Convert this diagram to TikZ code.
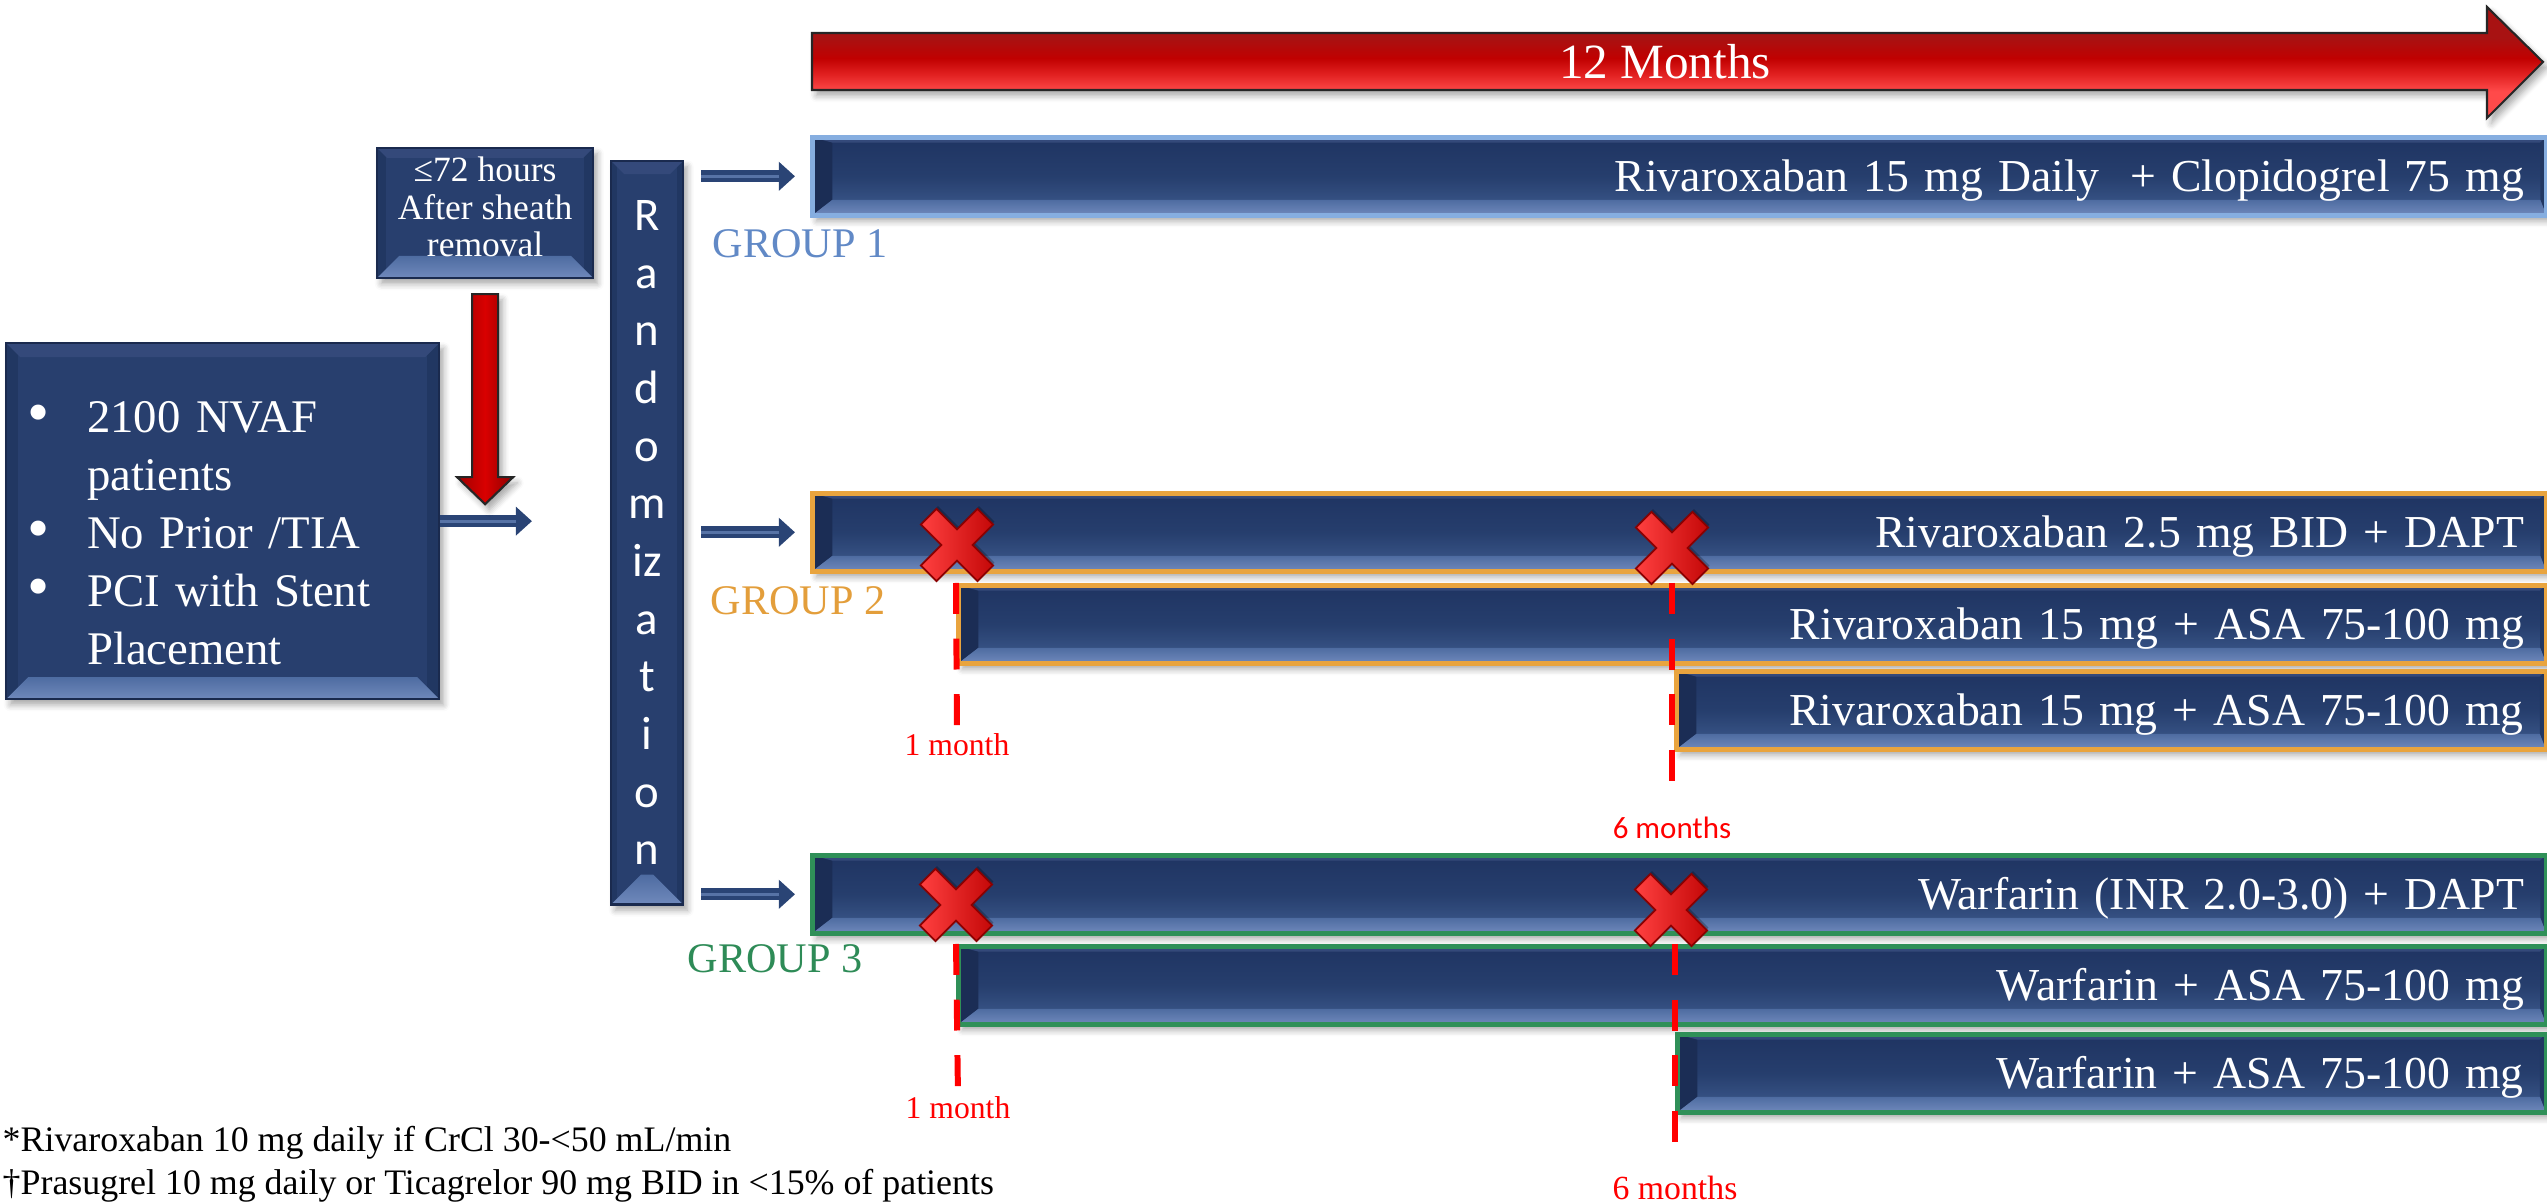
\documentclass[tikz,border=0pt]{standalone}
\usepackage{fontspec}
\setmainfont{Liberation Serif}
\newfontfamily\calibrifont{Carlito}
\usetikzlibrary{arrows.meta,shadows.blur,calc}

% palette
\definecolor{navyBody}{HTML}{283F6E}
\definecolor{barTop}{HTML}{1F3462}
\definecolor{barMid}{HTML}{263E6D}
\definecolor{barBot}{HTML}{3F5C90}
\definecolor{bevDark}{HTML}{1B2D55}
\definecolor{bevTop}{HTML}{34497A}
\definecolor{bevSide}{HTML}{213762}
\definecolor{bevLowA}{HTML}{4E6CA1}
\definecolor{bevLowB}{HTML}{7089BC}
\definecolor{boxEdge}{HTML}{1A2A4E}
\definecolor{gOneEdge}{HTML}{86AEE0}
\definecolor{gTwoEdge}{HTML}{E9A43E}
\definecolor{gThreeEdge}{HTML}{2F9058}
\definecolor{gOneText}{HTML}{6189C6}
\definecolor{gTwoText}{HTML}{E39E3B}
\definecolor{gThreeText}{HTML}{2E8B57}
\definecolor{navyA}{HTML}{2A4475}
\definecolor{navyHi}{HTML}{5773A6}
\definecolor{rbA}{HTML}{FF4A4A}
\definecolor{rbB}{HTML}{E01F1F}
\definecolor{rbC}{HTML}{C00000}
\definecolor{rbD}{HTML}{A81212}
\definecolor{xLight}{HTML}{FF4040}
\definecolor{xDeep}{HTML}{C40808}
\definecolor{xEdge}{HTML}{8B0000}
\definecolor{markRed}{HTML}{FF0000}

% timeline arrow shading (0bp = bottom)
\pgfdeclareverticalshading{redbar}{100bp}{color(0bp)=(rbA); color(37bp)=(rbA); color(45bp)=(rbB); color(52bp)=(rbC); color(61bp)=(rbD); color(100bp)=(rbD)}

\tikzset{
  softshadow/.style={blur shadow={shadow xshift=1.2pt, shadow yshift=-1.6pt, shadow blur steps=5, shadow opacity=35}},
  % bevelled box: side inset, top inset, bottom inset
  bevelbox/.style n args={3}{rectangle, draw=boxEdge, line width=0.6pt, fill=navyBody,
    text=white, softshadow, path picture={
      \coordinate (q1) at (path picture bounding box.north west);
      \coordinate (q2) at (path picture bounding box.north east);
      \coordinate (q3) at (path picture bounding box.south east);
      \coordinate (q4) at (path picture bounding box.south west);
      \fill[bevSide] (q1) rectangle ([xshift=#1]q4);
      \fill[bevSide] (q2) rectangle ([xshift=-#1]q3);
      \fill[bevTop] (q1) -- (q2) -- ([xshift=-#2,yshift=-#2]q2) -- ([xshift=#2,yshift=-#2]q1) -- cycle;
      \shade[top color=bevLowA, bottom color=bevLowB] (q4) -- (q3) -- ([xshift=-#3,yshift=#3]q3) -- ([xshift=#3,yshift=#3]q4) -- cycle;
    }},
  barbevel/.style={path picture={
      \coordinate (q1) at (path picture bounding box.north west);
      \coordinate (q2) at (path picture bounding box.north east);
      \coordinate (q3) at (path picture bounding box.south east);
      \coordinate (q4) at (path picture bounding box.south west);
      \fill[bevDark] (q1) -- ([xshift=5.7pt,yshift=-1.5pt]q1) -- ([xshift=5.7pt,yshift=4.4pt]q4) -- (q4) -- cycle;
      \fill[bevTop] (q1) -- (q2) -- ([xshift=-1.7pt,yshift=-1.5pt]q2) -- ([xshift=5.7pt,yshift=-1.5pt]q1) -- cycle;
      \fill[bevSide] (q2) -- (q3) -- ([xshift=-1.7pt,yshift=4.4pt]q3) -- ([xshift=-1.7pt,yshift=-1.5pt]q2) -- cycle;
      \shade[top color=bevLowA, bottom color=bevLowB] (q4) -- (q3) -- ([xshift=-1.7pt,yshift=4.4pt]q3) -- ([xshift=5.7pt,yshift=4.4pt]q4) -- cycle;
    }},
  trtbar/.style={rectangle, draw=#1, line width=1.3pt, top color=barTop, bottom color=barBot,
    middle color=barMid, barbevel, softshadow, anchor=north west, minimum height=0.78cm,
    inner xsep=0.22cm, inner ysep=0pt, text height=8.7pt, text depth=0pt, align=right,
    text=white, font=\fontsize{13}{15}\selectfont},
  boxtext/.style={inner sep=0pt, text=white},
  grouplabel/.style={anchor=base west, inner sep=0pt, font=\fontsize{12}{14}\selectfont, text=#1},
  monthlabel/.style={inner sep=0pt, text=markRed, font=\fontsize{9}{11}\selectfont},
  reddash/.style={draw=markRed, line width=1.7pt, dash pattern=on 8.8pt off 7pt},
  navyarrow/.style={draw=navyA, line width=3.4pt, -{Triangle[width=8pt,length=4.6pt]}},
  navystripe/.style={draw=navyHi, line width=0.8pt},
  footnote/.style={anchor=base west, inner sep=0pt, font=\fontsize{10.2}{12}\selectfont}
}

% red cross marker centred on a named coordinate
\newcommand\crossmark[2]{%
  \coordinate (#1) at #2;
  \begin{scope}[shift={#2}, rotate=45]
    \fill[black, opacity=0.25, shift={(3,-1)}] (11,11) -- (40,11) -- (40,-11) -- (11,-11) -- (11,-40) -- (-11,-40) -- (-11,-11) -- (-40,-11) -- (-40,11) -- (-11,11) -- (-11,40) -- (11,40) -- cycle;
    \shade[left color=xLight, right color=xDeep, draw=xEdge, line width=0.5pt] (11,11) -- (40,11) -- (40,-11) -- (11,-11) -- (11,-40) -- (-11,-40) -- (-11,-11) -- (-40,-11) -- (-40,11) -- (-11,11) -- (-11,40) -- (11,40) -- cycle;
  \end{scope}%
}

% navy block arrow between two points
\newcommand\navyconn[5]{%
  \draw[navyarrow, shorten <=#3, shorten >=#4] #1 -- #2;
  \draw[navystripe, shorten <=#3, shorten >=#5] #1 -- #2;
}

% list bullet
\newcommand\listdot{\makebox[0.6cm][l]{\raisebox{-0.02em}{\scalebox{1.35}{\textbullet}}}}

\begin{document}
\begin{tikzpicture}[x=0.01cm, y=-0.01cm]
\useasboundingbox (0,0) rectangle (2547,1204);

% 12-month timeline arrow
\shade[shading=redbar, draw=black!85, line width=0.6pt, softshadow]
  (812,33) -- (2487,33) -- (2487,7) -- (2543,62) -- (2487,118) -- (2487,90) -- (812,90) -- cycle;
\node[text=white, font=\fontsize{14}{16}\selectfont] (months) at (1665,62) {12 Months};

% enrolment
\node[bevelbox={3.4pt}{4pt}{6.3pt}, anchor=north west, minimum width=4.33cm, minimum height=3.56cm] (pat) at (5,342) {};
\node[boxtext, text width=3.91cm, align=left, font=\fontsize{13.3}{16.5}\selectfont] (pattext)
  at ($(pat.center)+(0,12)$)
  {\listdot 2100 NVAF\\\hspace*{0.6cm}patients\\
   \listdot No Prior /TIA\\
   \listdot PCI with Stent\\\hspace*{0.6cm}Placement};

\node[bevelbox={2.6pt}{2.8pt}{6.3pt}, anchor=north west, minimum width=2.16cm, minimum height=1.30cm] (h72) at (376,147) {};
\node[boxtext, align=center, font=\fontsize{10.1}{10.7}\selectfont] (h72text) at ($(h72.center)+(0,-6)$)
  {≤72 hours\\After sheath\\removal};

\node[bevelbox={1.7pt}{3.7pt}{8.5pt}, anchor=north west, minimum width=0.72cm, minimum height=7.43cm,
  align=center, font=\calibrifont\fontsize{13.3}{16.4}\selectfont] (rand) at (610,160)
  {R\\a\\n\\d\\o\\m\\iz\\a\\t\\i\\o\\n};

% treatment bars
\node[trtbar=gOneEdge, minimum width=17.33cm, text width=16.89cm] (g1) at (810,135)
  {Rivaroxaban 15 mg Daily\ \ + Clopidogrel 75 mg};
\node[trtbar=gTwoEdge, minimum width=17.33cm, text width=16.89cm] (g2a) at (810,491)
  {Rivaroxaban 2.5 mg BID + DAPT};
\node[trtbar=gTwoEdge, minimum width=15.87cm, text width=15.43cm] (g2b) at (956,583)
  {Rivaroxaban 15 mg + ASA 75-100 mg};
\node[trtbar=gTwoEdge, minimum width=8.69cm, text width=8.25cm] (g2c) at (1674,669)
  {Rivaroxaban 15 mg + ASA 75-100 mg};
\node[trtbar=gThreeEdge, minimum width=17.33cm, text width=16.89cm] (g3a) at (810,853)
  {Warfarin (INR 2.0-3.0) + DAPT};
\node[trtbar=gThreeEdge, minimum width=15.87cm, text width=15.43cm] (g3b) at (956,944)
  {Warfarin + ASA 75-100 mg};
\node[trtbar=gThreeEdge, minimum width=8.68cm, text width=8.24cm] (g3c) at (1675,1032)
  {Warfarin + ASA 75-100 mg};

% group names
\node[grouplabel=gOneText] (lg1) at (712,258) {GROUP 1};
\node[grouplabel=gTwoText] (lg2) at (710,615) {GROUP 2};
\node[grouplabel=gThreeText] (lg3) at (687,973) {GROUP 3};

% switch-point labels
\node[monthlabel] (m1a) at (957,745) {1 month};
\node[monthlabel, font=\calibrifont\fontsize{8.8}{10}\selectfont] (m6a) at (1672,828) {6 months};
\node[monthlabel] (m1b) at (958,1108) {1 month};
\node[monthlabel, font=\fontsize{9.6}{11}\selectfont] (m6b) at (1675,1188) {6 months};

% switch-point markers
\draw[reddash, shorten >=0.08cm] (g2b.north west) -- (m1a.north);
\draw[reddash, shorten >=0.30cm] (m6a |- g2b.north) -- (m6a.north);
\draw[reddash, shorten >=0.09cm] (g3b.north west) -- (m1b.north);
\draw[reddash, shorten >=0.29cm] (m6b |- g3b.north) -- (m6b.north);

\crossmark{xa}{(957,545)}
\crossmark{xb}{(1672,548)}
\crossmark{xc}{(956,905)}
\crossmark{xd}{(1671,910)}

% flow arrows
\navyconn{(pat.east)}{(rand.west |- pat.east)}{0pt}{0.78cm}{0.94cm}
\navyconn{(rand.east |- g1.west)}{(g1.west)}{0.17cm}{0.15cm}{0.31cm}
\navyconn{(rand.east |- g2a.west)}{(g2a.west)}{0.17cm}{0.15cm}{0.31cm}
\navyconn{(rand.east |- g3a.west)}{(g3a.west)}{0.17cm}{0.15cm}{0.31cm}

% red downward arrow under the timing box
\coordinate (redtop) at ($(h72.south)+(0,15)$);
\begin{scope}[shift={(redtop)}]
  \shade[left color=black!10!red!70!black, right color=red!55!black, middle color=red!85!black,
    draw=black!85, line width=0.6pt, softshadow]
    (-13,0) -- (13,0) -- (13,183) -- (28,183) -- (0,210) -- (-28,183) -- (-13,183) -- cycle;
\end{scope}

% footnotes
\node[footnote] (fn1) at (2,1152) {*Rivaroxaban 10 mg daily if CrCl 30-<50 mL/min};
\node[footnote] (fn2) at (2,1195) {†Prasugrel 10 mg daily or Ticagrelor 90 mg BID in <15\% of patients};
\end{tikzpicture}
\end{document}
